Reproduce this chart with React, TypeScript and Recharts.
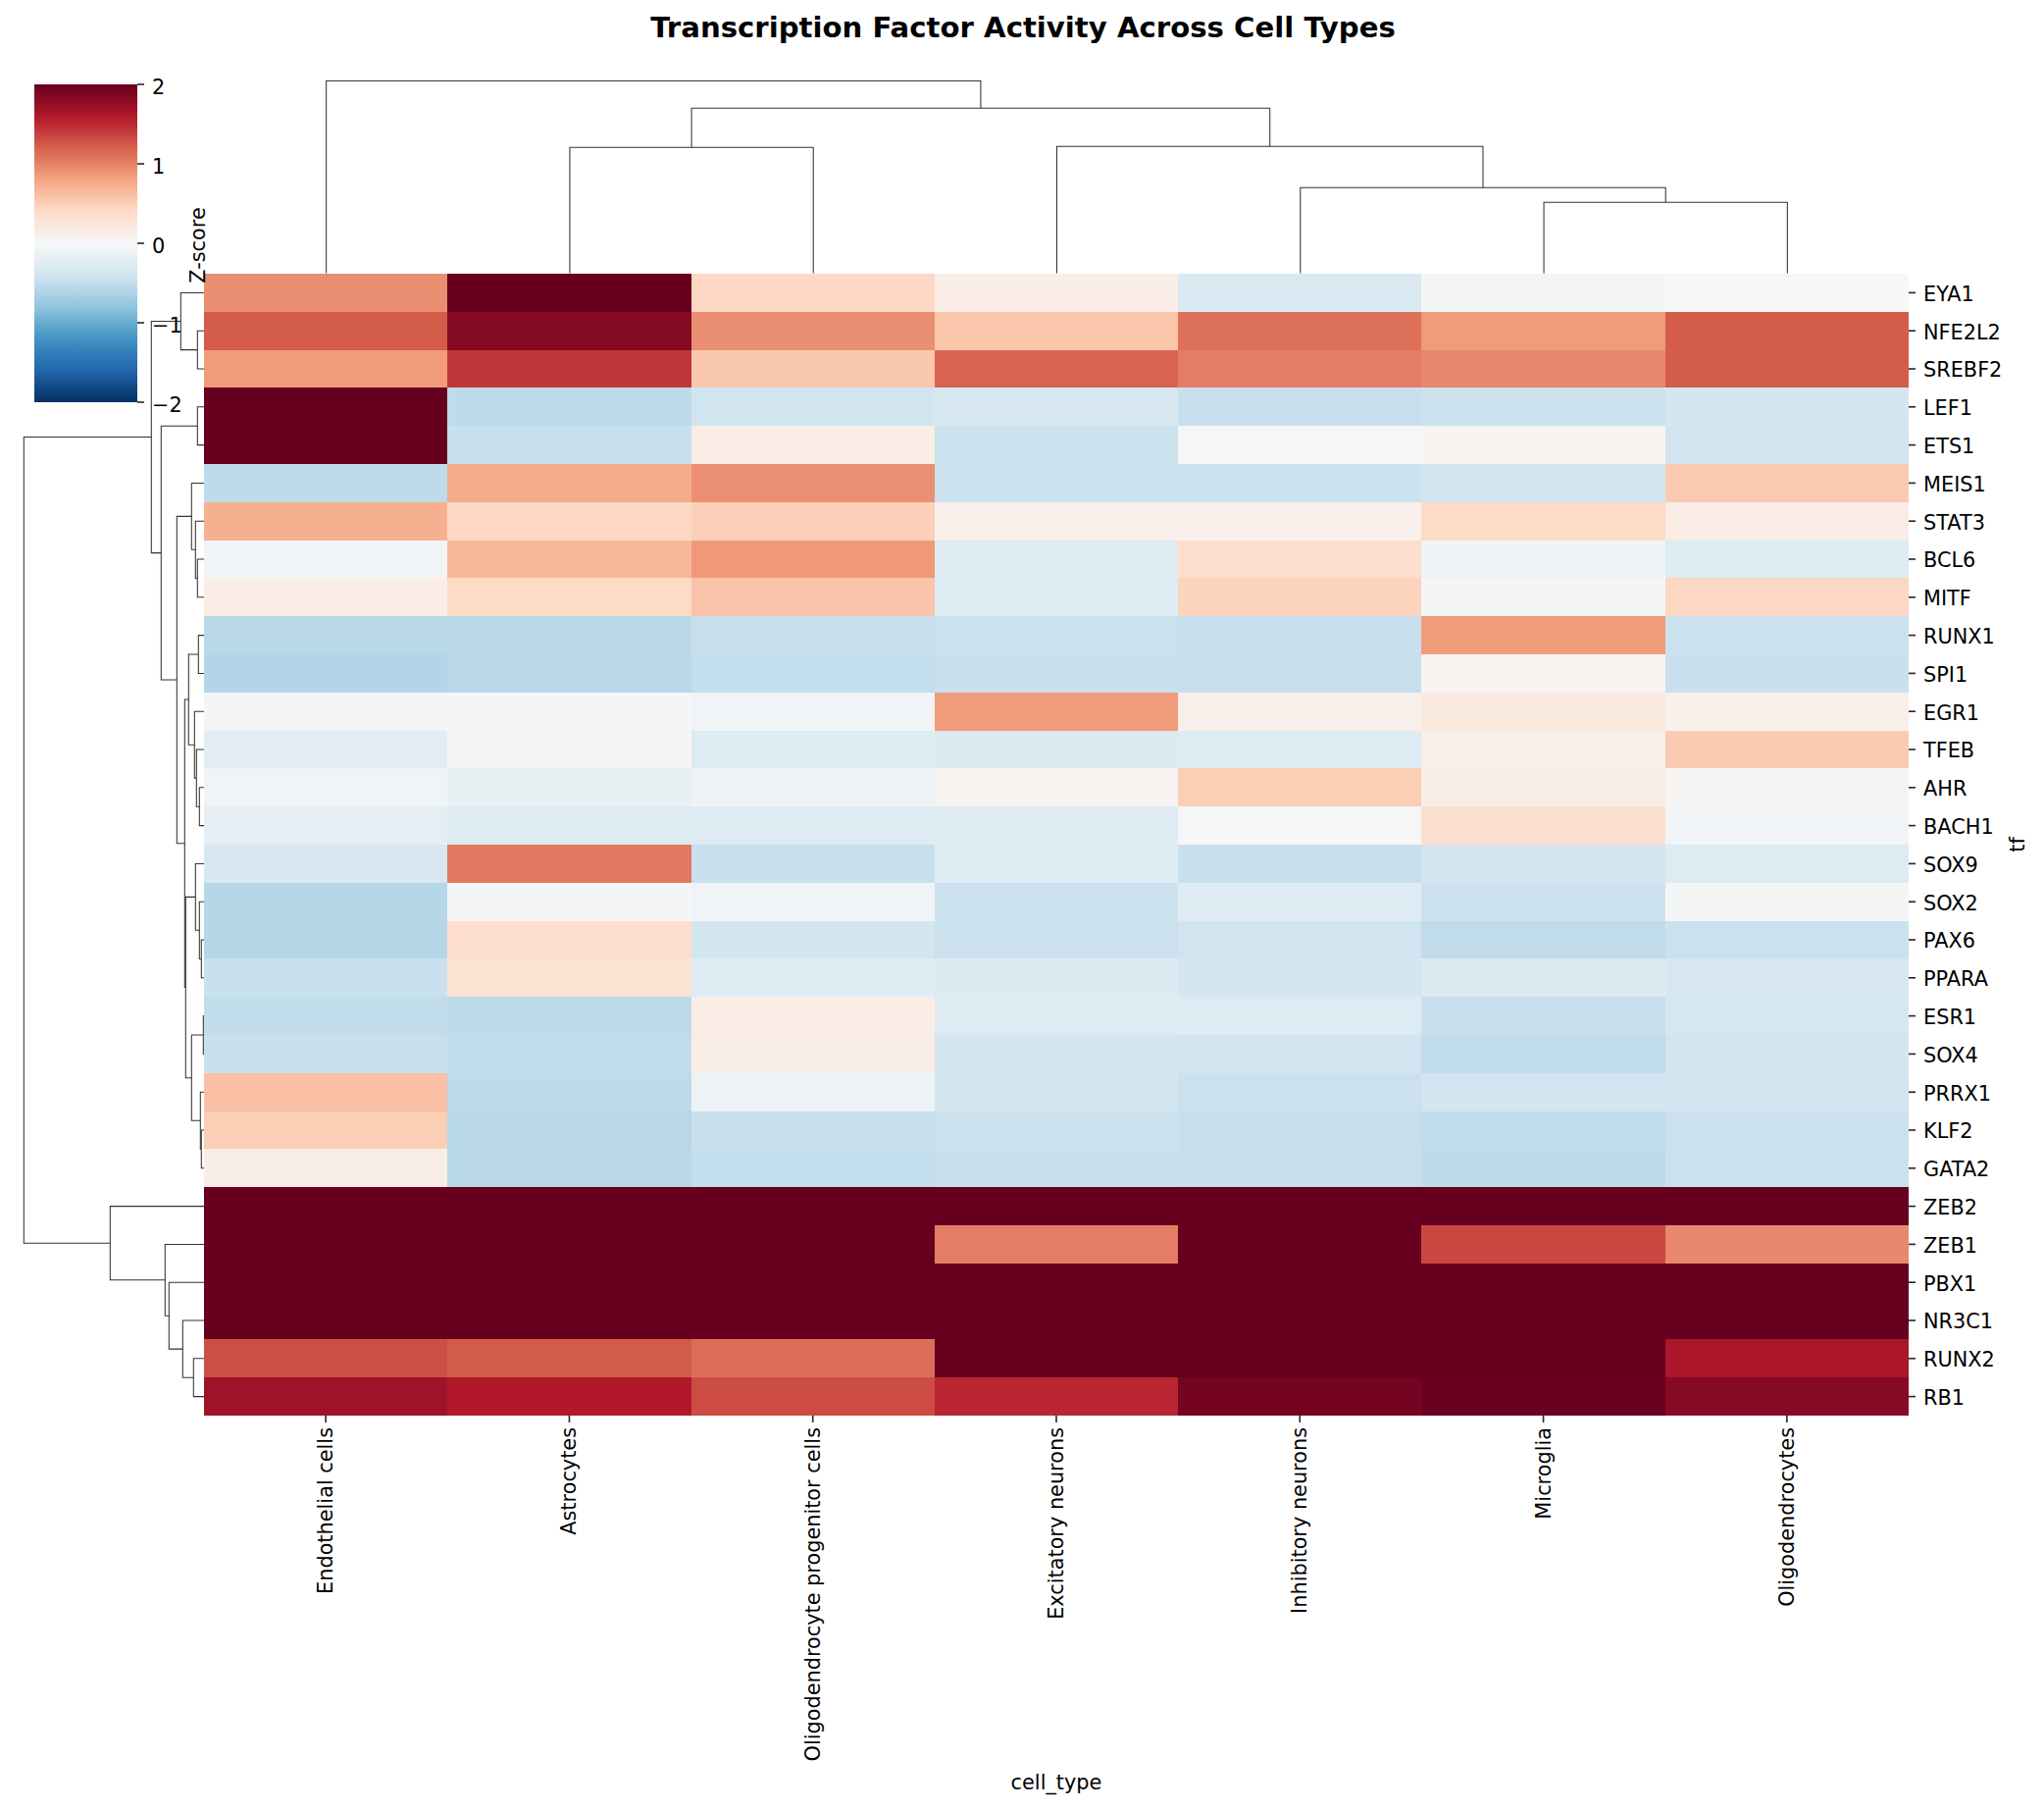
import { BarChart, Bar, Cell, ScatterChart, Scatter, XAxis, YAxis } from 'recharts';

const PAGE_W = 2084;
const PAGE_H = 1843;
const HEAT = { left: 208, right: 1946, top: 279, bottom: 1443 };
const FONT = 'DejaVu Sans';
const FONT_SIZE = 20.83;
const LINK_COLOR = '#333333';
const TICK_COLOR = '#262626';

const cellTypes = [
  'Endothelial cells', 'Astrocytes', 'Oligodendrocyte progenitor cells', 'Excitatory neurons',
  'Inhibitory neurons', 'Microglia', 'Oligodendrocytes',
];

const tfs = [
  'EYA1', 'NFE2L2', 'SREBF2', 'LEF1', 'ETS1', 'MEIS1', 'STAT3', 'BCL6', 'MITF', 'RUNX1',
  'SPI1', 'EGR1', 'TFEB', 'AHR', 'BACH1', 'SOX9', 'SOX2', 'PAX6', 'PPARA', 'ESR1',
  'SOX4', 'PRRX1', 'KLF2', 'GATA2', 'ZEB2', 'ZEB1', 'PBX1', 'NR3C1', 'RUNX2', 'RB1',
];

// z-scores, one row per tf, columns in cellTypes order
const zScores = [
  [0.93, 2, 0.42, 0.14, -0.31, -0.03, -0.01],
  [1.22, 1.84, 0.93, 0.55, 1.1, 0.86, 1.22],
  [0.86, 1.43, 0.54, 1.18, 1.03, 0.96, 1.22],
  [2, -0.53, -0.4, -0.34, -0.46, -0.43, -0.37],
  [2, -0.46, 0.15, -0.44, -0.02, 0.05, -0.39],
  [-0.52, 0.75, 0.92, -0.44, -0.43, -0.4, 0.53],
  [0.72, 0.42, 0.48, 0.1, 0.1, 0.4, 0.16],
  [-0.07, 0.66, 0.87, -0.27, 0.37, -0.09, -0.27],
  [0.14, 0.4, 0.57, -0.25, 0.45, -0.03, 0.43],
  [-0.55, -0.55, -0.46, -0.44, -0.46, 0.85, -0.44],
  [-0.6, -0.56, -0.49, -0.45, -0.47, 0.05, -0.45],
  [-0.04, -0.03, -0.07, 0.85, 0.11, 0.2, 0.1],
  [-0.22, 0.03, -0.27, -0.28, -0.26, 0.1, 0.52],
  [-0.07, -0.15, -0.09, 0.04, 0.5, 0.13, 0.03],
  [-0.19, -0.26, -0.26, -0.26, -0.02, 0.33, -0.07],
  [-0.34, 1.05, -0.46, -0.24, -0.46, -0.39, -0.26],
  [-0.57, -0.03, -0.06, -0.43, -0.25, -0.44, -0.03],
  [-0.57, 0.37, -0.38, -0.44, -0.4, -0.51, -0.44],
  [-0.45, 0.3, -0.25, -0.28, -0.37, -0.28, -0.35],
  [-0.5, -0.53, 0.15, -0.26, -0.27, -0.46, -0.36],
  [-0.45, -0.5, 0.13, -0.37, -0.39, -0.51, -0.38],
  [0.6, -0.53, -0.11, -0.38, -0.44, -0.39, -0.39],
  [0.5, -0.56, -0.46, -0.44, -0.47, -0.51, -0.44],
  [0.13, -0.56, -0.49, -0.45, -0.47, -0.52, -0.44],
  [2, 2, 2, 2, 2, 2, 2],
  [2, 2, 2, 1.02, 2, 1.34, 0.96],
  [2, 2, 2, 2, 2, 2, 2],
  [2, 2, 2, 2, 2, 2, 2],
  [1.3, 1.23, 1.12, 2, 2, 2, 1.64],
  [1.7, 1.6, 1.31, 1.52, 1.93, 1.98, 1.83],
];

// linkage tables: [child a, child b, merge distance]. ids below the leaf count are leaves,
// the others refer to earlier merges
const rowMerges = [
  [1, 2, 6.7], [0, 30, 23.7], [3, 4, 6.7], [7, 8, 6.7], [6, 33, 8.7], [5, 34, 12.7],
  [9, 10, 5.7], [13, 14, 4.7], [12, 37, 7.7], [11, 38, 9.7], [36, 39, 15.7],
  [17, 18, 2.7], [16, 41, 4.7], [15, 42, 8.7], [19, 20, 0.7], [22, 23, 2.7], [21, 45, 3.7],
  [44, 46, 12.7], [43, 47, 18.7], [40, 48, 19.7], [35, 49, 27.7], [32, 50, 43.7], [31, 51, 53.7],
  [28, 29, 10.7], [27, 53, 21.7], [26, 54, 35.7], [25, 55, 39.7], [24, 56, 95.7], [52, 57, 183.7],
];

const colMerges = [
  [5, 6, 72.2], [4, 7, 87.2], [3, 8, 129.2], [1, 2, 128.2], [10, 9, 168.2], [0, 11, 196],
];

const zTicks = [-2, -1, 0, 1, 2];
const zStops = [
  [-2, '#053061'], [-1.6, '#2166ac'], [-1.2, '#4393c3'], [-0.8, '#92c5de'], [-0.4, '#d1e5f0'], [0, '#f7f7f7'],
  [0.4, '#fddbc7'], [0.8, '#f4a582'], [1.2, '#d6604d'], [1.6, '#b2182b'], [2, '#67001f'],
] as [number, string][];

const hexToRgb = (hex: string) => [1, 3, 5].map((i) => parseInt(hex.slice(i, i + 2), 16));

const zColor = (z: number) => {
  const v = Math.max(-2, Math.min(2, z));
  let i = 0;
  while (i < zStops.length - 2 && v > zStops[i + 1][0]) i++;
  const [z0, c0] = zStops[i];
  const [z1, c1] = zStops[i + 1];
  const t = (v - z0) / (z1 - z0);
  const a = hexToRgb(c0);
  const b = hexToRgb(c1);
  return `rgb(${a.map((x, k) => Math.round(x + (b[k] - x) * t)).join(',')})`;
};

// turn a linkage table into one 4 point path per merge
const buildLinks = (merges: number[][], leafCount: number) => {
  const nodes: Record<number, { pos: number; dist: number }> = {};
  for (let i = 0; i < leafCount; i++) nodes[i] = { pos: i + 0.5, dist: 0 };
  return merges.map(([a, b, dist], i) => {
    const na = nodes[a];
    const nb = nodes[b];
    nodes[leafCount + i] = { pos: (na.pos + nb.pos) / 2, dist };
    return [
      { pos: na.pos, dist: na.dist },
      { pos: na.pos, dist },
      { pos: nb.pos, dist },
      { pos: nb.pos, dist: nb.dist },
    ];
  });
};

const rowLinks = buildLinks(rowMerges, tfs.length);
const colLinks = buildLinks(colMerges, cellTypes.length);

const heatData = tfs.map((tf) => {
  const row: Record<string, string | number> = { tf };
  cellTypes.forEach((c) => { row[c] = 1; });
  return row;
});

const colTicks = cellTypes.map((_, i) => i + 0.5);
const colorbarData = [{ name: 'Z-score', span: [-2, 2] }];
const formatZ = (v: number) => (v < 0 ? `\u2212${-v}` : `${v}`);

const ColumnTick = ({ x, y, payload }: any) => (
  <text
    transform={`translate(${x},${y + 3}) rotate(-90)`}
    textAnchor="end"
    dominantBaseline="central"
    fontFamily={FONT}
    fontSize={FONT_SIZE}
    fill="#000"
  >
    {cellTypes[Math.floor(payload.value)]}
  </text>
);

const noPoint = () => <g />;
const layer: React.CSSProperties = { position: 'absolute', left: 0, top: 0 };

const App = () => (
  <div style={{ position: 'absolute', left: 0, top: 0, width: PAGE_W, height: PAGE_H, background: '#fff' }}>
    {/* heatmap */}
    <div style={layer}>
      <BarChart
        width={PAGE_W}
        height={PAGE_H}
        data={heatData}
        layout="vertical"
        barCategoryGap={0}
        margin={{ left: HEAT.left, right: 0, top: HEAT.top, bottom: 0 }}
      >
        <XAxis
          type="number"
          domain={[0, cellTypes.length]}
          ticks={colTicks}
          axisLine={false}
          tickSize={7}
          tickLine={{ stroke: TICK_COLOR, strokeWidth: 1.6 }}
          height={PAGE_H - HEAT.bottom}
          tick={<ColumnTick />}
          interval={0}
        />
        <YAxis
          type="category"
          dataKey="tf"
          orientation="right"
          width={PAGE_W - HEAT.right}
          axisLine={false}
          tickSize={7}
          tickMargin={8}
          tickLine={{ stroke: TICK_COLOR, strokeWidth: 1.6 }}
          tick={{ fill: '#000', fontFamily: FONT, fontSize: FONT_SIZE, dy: 1 }}
          interval={0}
        />
        {cellTypes.map((c, col) => (
          <Bar key={c} dataKey={c} stackId="cells" isAnimationActive={false} shapeRendering="crispEdges">
            {tfs.map((tf, row) => (
              <Cell key={tf} fill={zColor(zScores[row][col])} />
            ))}
          </Bar>
        ))}
        <text x={1043} y={38} textAnchor="middle" fontFamily={FONT} fontSize={29.17} fontWeight="bold" fill="#000">
          Transcription Factor Activity Across Cell Types
        </text>
        <text x={1077} y={1824} textAnchor="middle" fontFamily={FONT} fontSize={FONT_SIZE} fill="#000">
          cell_type
        </text>
        <text
          transform="translate(2064,861) rotate(-90)"
          textAnchor="middle"
          fontFamily={FONT}
          fontSize={FONT_SIZE}
          fill="#000"
        >
          tf
        </text>
      </BarChart>
    </div>

    {/* row dendrogram */}
    <div style={layer}>
      <ScatterChart
        width={PAGE_W}
        height={PAGE_H}
        margin={{ left: 24.3, right: PAGE_W - HEAT.left, top: HEAT.top, bottom: PAGE_H - HEAT.bottom }}
      >
        <XAxis type="number" dataKey="dist" domain={[0, 183.7]} reversed hide />
        <YAxis type="number" dataKey="pos" domain={[0, tfs.length]} reversed hide />
        {rowLinks.map((link, i) => (
          <Scatter
            key={i}
            data={link}
            line={{ stroke: LINK_COLOR, strokeWidth: 1.05 }}
            shape={noPoint}
            isAnimationActive={false}
          />
        ))}
      </ScatterChart>
    </div>

    {/* column dendrogram */}
    <div style={layer}>
      <ScatterChart
        width={PAGE_W}
        height={PAGE_H}
        margin={{ left: HEAT.left + 0.5, right: PAGE_W - HEAT.right - 0.5, top: 82.5, bottom: PAGE_H - 278.5 }}
      >
        <XAxis type="number" dataKey="pos" domain={[0, cellTypes.length]} hide />
        <YAxis type="number" dataKey="dist" domain={[0, 196]} hide />
        {colLinks.map((link, i) => (
          <Scatter
            key={i}
            data={link}
            line={{ stroke: LINK_COLOR, strokeWidth: 1.05 }}
            shape={noPoint}
            isAnimationActive={false}
          />
        ))}
      </ScatterChart>
    </div>

    {/* colorbar */}
    <div style={layer}>
      <BarChart
        width={PAGE_W}
        height={PAGE_H}
        data={colorbarData}
        barCategoryGap={0}
        margin={{ left: 35, right: 0, top: 86, bottom: PAGE_H - 410 }}
      >
        <defs>
          <linearGradient id="zGradient" x1="0" y1="1" x2="0" y2="0">
            {zStops.map(([z, color]) => (
              <stop key={z} offset={`${((z + 2) / 4) * 100}%`} stopColor={color} />
            ))}
          </linearGradient>
        </defs>
        <XAxis dataKey="name" hide />
        <YAxis
          type="number"
          domain={[-2, 2]}
          ticks={zTicks}
          orientation="right"
          width={PAGE_W - 140}
          axisLine={false}
          tickSize={7}
          tickMargin={8}
          tickFormatter={formatZ}
          tickLine={{ stroke: TICK_COLOR, strokeWidth: 1.6 }}
          tick={{ fill: '#000', fontFamily: FONT, fontSize: FONT_SIZE, dy: 2.5 }}
          interval={0}
        />
        <Bar dataKey="span" fill="url(#zGradient)" isAnimationActive={false} />
        <text
          transform="translate(209,250) rotate(-90)"
          textAnchor="middle"
          fontFamily={FONT}
          fontSize={FONT_SIZE}
          fill="#000"
        >
          Z-score
        </text>
      </BarChart>
    </div>
  </div>
);

export default App;
